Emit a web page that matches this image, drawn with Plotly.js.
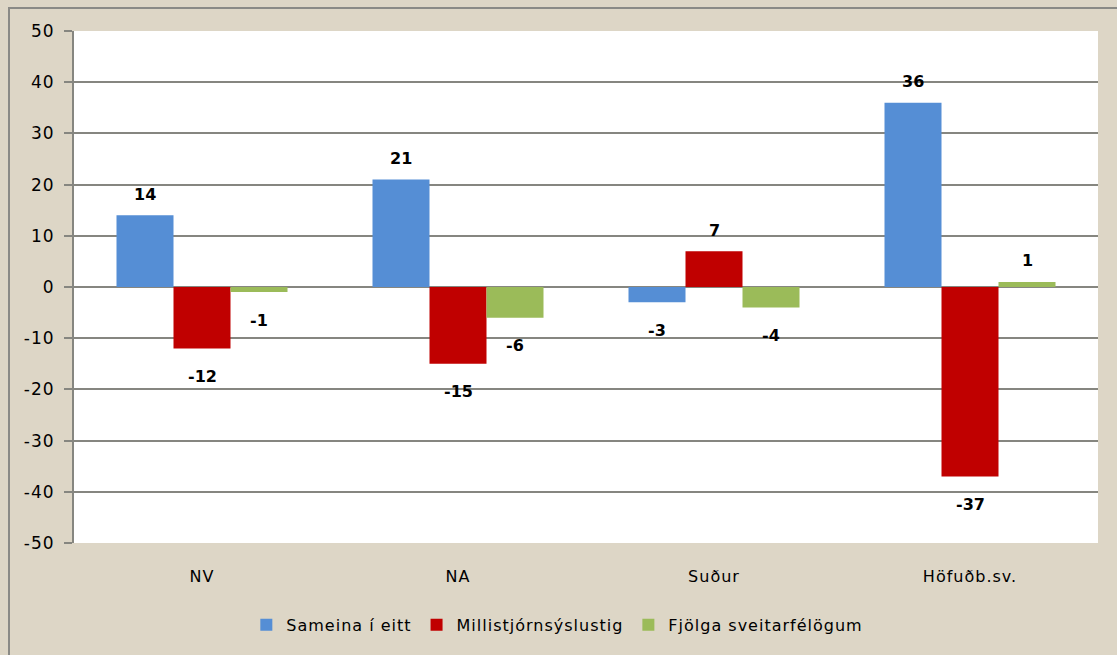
<!DOCTYPE html>
<html>
<head>
<meta charset="utf-8">
<script src="https://cdn.plot.ly/plotly-3.0.1.min.js"></script>
<style>
html,body{margin:0;padding:0;background:#ddd6c6;}
#chart{position:absolute;left:0;top:0;width:1117px;height:655px;}
#bl{position:absolute;left:8px;top:7px;width:2px;height:648px;background:#8a8a86;}
#bt{position:absolute;left:8px;top:7px;width:1109px;height:2px;background:#8a8a86;}
.xtick text, .ytick text, .legendtext{letter-spacing:1px;}
</style>
</head>
<body>
<div id="chart"></div>
<div id="bl"></div><div id="bt"></div>
<script>
const categories = ["NV", "NA", "Suður", "Höfuðb.sv."];
const seriesNames = ["Sameina í eitt", "Millistjórnsýslustig", "Fjölga sveitarfélögum"];
const sameina = [14, 21, -3, 36];
const millistig = [-12, -15, 7, -37];
const fjolga = [-1, -6, -4, 1];
const yTicks = [-50, -40, -30, -20, -10, 0, 10, 20, 30, 40, 50];

const seriesValues = [sameina, millistig, fjolga];
const colors = ["#558ed5", "#c00000", "#9bbb59"];
const FONT = "DejaVu Sans, sans-serif";

const traces = seriesValues.map((vals, i) => ({
  type: "bar",
  name: seriesNames[i],
  x: categories,
  y: vals,
  marker: {color: colors[i], line: {width: 0}},
  hoverinfo: "none"
}));

const offsets = [-57, 0, 57];
const annotations = [];
seriesValues.forEach((vals, i) => {
  vals.forEach((v, j) => {
    annotations.push({
      x: categories[j], y: v, xref: "x", yref: "y",
      text: "<b>" + String(v) + "</b>", showarrow: false,
      xshift: offsets[i], yshift: v >= 0 ? 21 : -28,
      yanchor: "middle", xanchor: "center",
      font: {family: FONT, size: 16, color: "#000"}
    });
  });
});

const layout = {
  width: 1117, height: 655,
  margin: {l: 74, r: 19, t: 31, b: 112},
  paper_bgcolor: "rgba(0,0,0,0)",
  plot_bgcolor: "#ffffff",
  barmode: "group",
  bargap: 0.332,
  bargroupgap: 0,
  showlegend: true,
  legend: {
    orientation: "h", x: 0.472, xanchor: "center", y: -0.16, yanchor: "middle",
    font: {family: FONT, size: 16, color: "#000"},
    bgcolor: "rgba(0,0,0,0)", itemwidth: 30, traceorder: "normal"
  },
  xaxis: {
    type: "category",
    showgrid: false, zeroline: false, showline: false,
    ticks: "", ticklabelstandoff: 22,
    tickfont: {family: FONT, size: 16, color: "#000"}
  },
  yaxis: {
    range: [-50, 50],
    tickvals: yTicks, ticktext: yTicks.map(String),
    showgrid: true, gridcolor: "#868680", gridwidth: 2,
    zeroline: true, zerolinecolor: "#868680", zerolinewidth: 2,
    showline: true, linecolor: "#868680", linewidth: 2,
    ticks: "outside", ticklen: 8, tickcolor: "#868680", tickwidth: 2,
    tickfont: {family: FONT, size: 17, color: "#000"}
  },
  annotations: annotations
};

Plotly.newPlot("chart", traces, layout, {displayModeBar: false, staticPlot: true}).then(() => {
  document.querySelectorAll("#chart .ytick text").forEach(t => {
    const x = parseFloat(t.getAttribute("x") || "0");
    t.setAttribute("x", String(x - 6));
  });
});
</script>
</body>
</html>
